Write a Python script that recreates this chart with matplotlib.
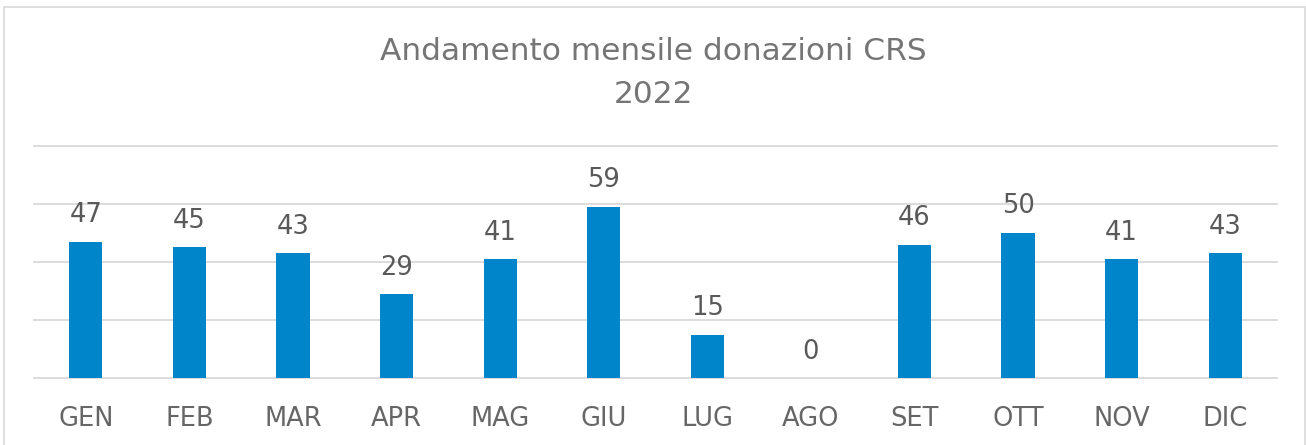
import matplotlib
matplotlib.use("Agg")
import matplotlib.pyplot as plt
from matplotlib.patches import Rectangle

months = ["GEN", "FEB", "MAR", "APR", "MAG", "GIU", "LUG", "AGO", "SET", "OTT", "NOV", "DIC"]
donations = [47, 45, 43, 29, 41, 59, 15, 0, 46, 50, 41, 43]
title = "Andamento mensile donazioni CRS\n2022"

plt.rcParams['font.family'] = ['DejaVu Sans']
W, H = 1306, 445
fig = plt.figure(figsize=(W / 100, H / 100), dpi=100)

# chart border
fig.patches.append(Rectangle((4 / W, -0.02), (1305 - 4) / W, 1.02 - 7 / H,
                             transform=fig.transFigure, fill=False,
                             edgecolor="#d9d9d9", linewidth=1.2))

ax = fig.add_axes([34 / W, 1 - 378.3 / H, (1277 - 34) / W, (378.3 - 145.7) / H])
x = range(len(months))
ax.bar(x, donations, width=0.32, color="#0085CA", zorder=3)
ax.set_xlim(-0.5, len(months) - 0.5)
ax.set_ylim(0, 80)
ax.set_yticks([0, 20, 40, 60, 80])
ax.yaxis.grid(True, color="#d9d9d9", linewidth=1.3, zorder=0)
for gl in ax.get_ygridlines():
    gl.set_clip_on(False)
ax.set_axisbelow(True)
ax.set_yticklabels([])
ax.tick_params(axis="y", length=0)
ax.set_xticks(list(x))
ax.set_xticklabels(months, fontsize=18.5, color="#666666")
ax.tick_params(axis="x", length=0, pad=20)
for s in ax.spines.values():
    s.set_visible(False)

for xi, v in zip(x, donations):
    ax.annotate(str(v), (xi, v), xytext=(0, 14), textcoords="offset points",
                ha="center", va="baseline", fontsize=18.5, color="#595959")

fig.text(0.5, 1 - 73 / H, title, ha="center", va="center", fontsize=22.5,
         color="#757575", linespacing=1.58)

fig.savefig("out.png", dpi=100)
